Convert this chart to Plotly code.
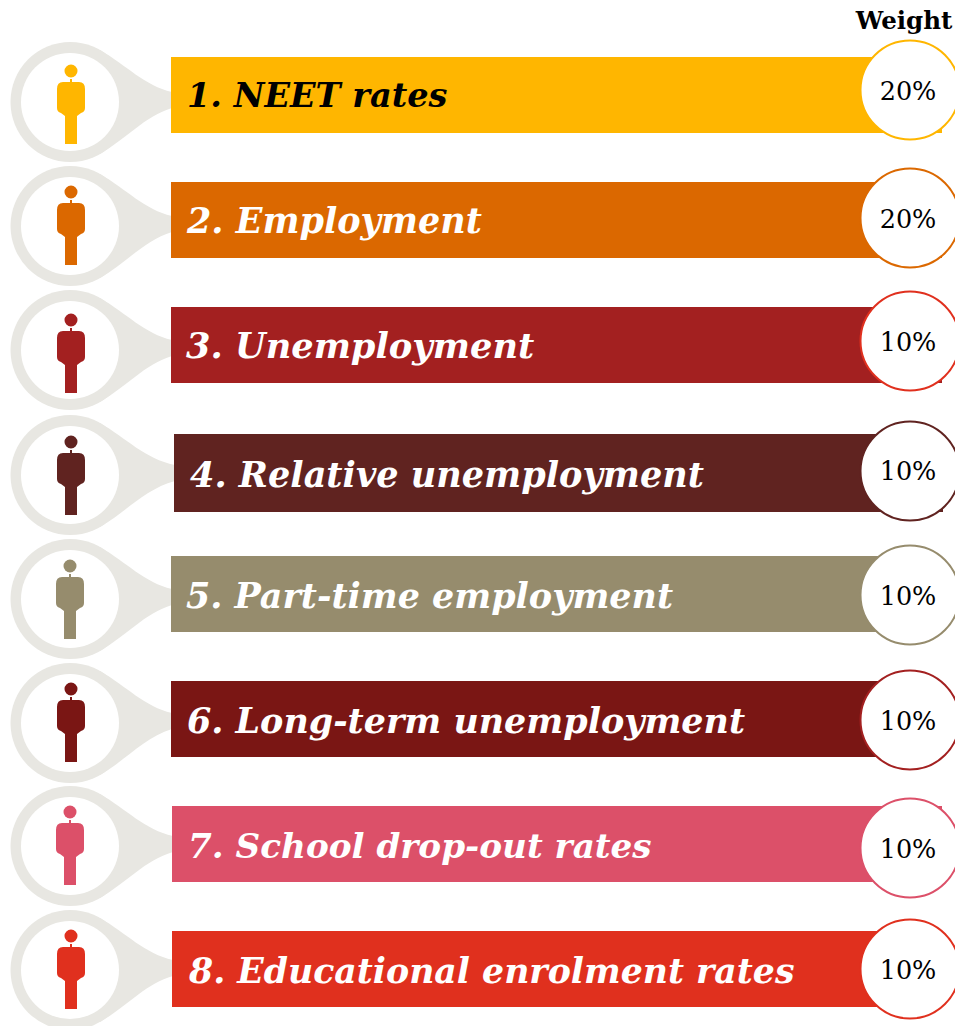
import plotly.graph_objects as go

labels = ["1. NEET rates", "2. Employment", "3. Unemployment", "4. Relative unemployment",
          "5. Part-time employment", "6. Long-term unemployment", "7. School drop-out rates",
          "8. Educational enrolment rates"]
weights = ["20%", "20%", "10%", "10%", "10%", "10%", "10%", "10%"]
bar_colors = ["#FFB600", "#DB6800", "#A32020", "#602320", "#968C6D", "#7A1614", "#DC5069", "#E0301E"]
ring_colors = ["#FFB600", "#DB6800", "#E0301E", "#602320", "#968C6D", "#A32020", "#DC5069", "#E0301E"]
text_colors = ["#000000"] + ["#FFFFFF"] * 7
bar_left = [171, 171, 171, 174, 171, 171, 172, 172]
bar_right = [942, 942, 942, 943, 942, 942, 942, 942]
bar_top = [57, 182, 307, 434, 556, 681, 806, 931]
bar_bottom = [133, 258, 383, 512, 632, 757, 882, 1007]
circle_y = [90, 218, 341, 471, 595, 720, 848, 969]
drop_y = [102, 226, 350, 475, 599, 723, 846, 970]
person_x = [71, 71, 71, 71, 70, 71, 70, 71]
person_head_y = [71, 192, 320, 442, 566, 689, 812, 936]
label_x = [187, 187, 186, 190, 186, 187, 188, 189]
label_y = [99, 224, 349, 478, 599, 724, 849, 974]
label_size = [33.6, 35, 35.2, 35.1, 34.9, 34.9, 34.2, 34.7]
weight_y = [94, 222, 345, 474, 599, 724, 852, 973]

GREY = "#E8E7E2"
shapes = []
for i in range(len(labels)):
    cy = drop_y[i]
    L = bar_left[i] + 1
    # teardrop
    shapes.append(dict(type="circle", x0=10.5, x1=130, y0=cy-60, y1=cy+60, fillcolor=GREY, line_width=0, layer="below"))
    shapes.append(dict(type="path",
        path=f"M 100 {cy-52} C 126 {cy-37} 145 {cy-16} {L} {cy-10} L {L} {cy+6} C 145 {cy+14} 126 {cy+37} 100 {cy+52} Z",
        fillcolor=GREY, line_width=0, layer="below"))
    shapes.append(dict(type="circle", x0=21, x1=119, y0=cy-49, y1=cy+49, fillcolor="white", line_width=0, layer="below"))
    # bar
    shapes.append(dict(type="rect", x0=bar_left[i], x1=bar_right[i], y0=bar_top[i], y1=bar_bottom[i],
                       fillcolor=bar_colors[i], line_width=0, layer="below"))
    # person
    px = person_x[i]; hy = person_head_y[i]; c = bar_colors[i]
    shapes.append(dict(type="circle", x0=px-6.5, x1=px+6.5, y0=hy-6.5, y1=hy+6.5, fillcolor=c, line_width=0, layer="below"))
    t = hy + 11
    shapes.append(dict(type="path",
        path=(f"M {px-1} {t-3} L {px+1} {t-3} L {px+1} {t} L {px+8} {t} Q {px+14} {t} {px+14} {t+7} L {px+14} {t+26} "
              f"Q {px+14} {t+30} {px+10} {t+31} L {px+6} {t+34} L {px+6} {t+62} "
              f"L {px-6} {t+62} L {px-6} {t+34} L {px-10} {t+31} Q {px-14} {t+30} {px-14} {t+26} "
              f"L {px-14} {t+7} Q {px-14} {t} {px-8} {t} L {px-1} {t} Z"),
        fillcolor=c, line_width=0, layer="below"))
    # weight circle
    shapes.append(dict(type="circle", x0=860.5, x1=959.5, y0=circle_y[i]-49.5, y1=circle_y[i]+49.5,
                       fillcolor="white", line=dict(color=ring_colors[i], width=2), layer="below"))

fig = go.Figure()
fig.add_trace(go.Scatter(x=label_x, y=label_y, mode="text", text=[f"<b><i>{s}</i></b>" for s in labels],
                         textposition="middle right", hoverinfo="skip",
                         textfont=dict(family="DejaVu Serif", size=label_size, color=text_colors)))
fig.add_trace(go.Scatter(x=[908]*len(weights), y=weight_y, mode="text", text=weights,
                         textposition="middle center", hoverinfo="skip",
                         textfont=dict(family="DejaVu Serif", size=25.5, color="#000000")))
fig.add_trace(go.Scatter(x=[904], y=[23], mode="text", text=["<b>Weight</b>"], textposition="middle center",
                         hoverinfo="skip", textfont=dict(family="DejaVu Serif", size=24.5, color="#000000")))
fig.update_layout(width=955, height=1026, margin=dict(l=0, r=0, t=0, b=0), showlegend=False,
                  paper_bgcolor="white", plot_bgcolor="white", shapes=shapes,
                  xaxis=dict(range=[0, 955], visible=False, fixedrange=True),
                  yaxis=dict(range=[1026, 0], visible=False, fixedrange=True))
fig.write_html("out.html", config={"displayModeBar": False},
               post_script="document.body.style.margin='0';document.body.style.overflow='hidden';")
